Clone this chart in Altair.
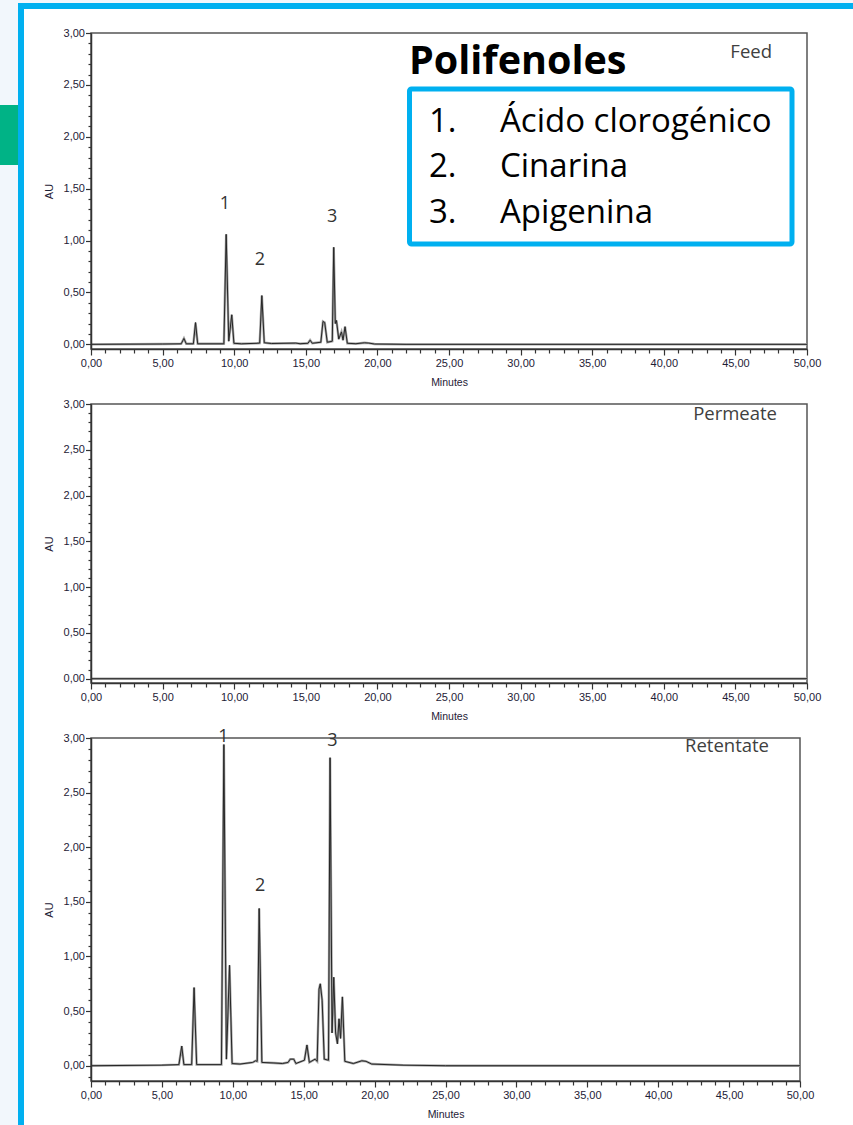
import altair as alt
import pandas as pd

# ---------------- data ----------------
feed_time = [0.0, 5.0, 6.3, 6.49, 6.65, 7.15, 7.3, 7.45, 9.28, 9.44, 9.62, 9.83, 9.98, 10.5,
             11.6, 11.78, 11.93, 12.1, 12.6, 14.3, 14.6, 15.15, 15.3, 15.45, 16.05, 16.2, 16.32, 16.5,
             16.85, 16.95, 17.06, 17.14, 17.3, 17.49, 17.6, 17.74, 17.9, 18.5, 19.1, 19.4, 19.8,
             22.0, 50.0]
feed_au = [0.0, 0.003, 0.005, 0.057, 0.005, 0.005, 0.21, 0.005, 0.005, 1.06, 0.03, 0.285, 0.01, 0.005,
           0.01, 0.012, 0.47, 0.015, 0.008, 0.012, 0.006, 0.01, 0.04, 0.01, 0.02, 0.22, 0.21, 0.02,
           0.03, 0.935, 0.2, 0.23, 0.05, 0.12, 0.04, 0.17, 0.01, 0.006, 0.015, 0.012, 0.003,
           0.0, 0.0]

perm_time = [0.0, 50.0]
perm_au = [0.0, 0.0]

ret_time = [0.0, 5.0, 6.2, 6.4, 6.55, 7.1, 7.27, 7.45, 9.2, 9.37, 9.55, 9.77, 9.95, 10.5,
            11.4, 11.6, 11.72, 11.86, 12.05, 12.9, 13.5, 13.9, 14.05, 14.3, 14.45, 15.05, 15.23, 15.4,
            15.8, 15.95, 16.08, 16.17, 16.3, 16.45, 16.75, 16.86, 17.0, 17.12, 17.25, 17.38,
            17.49, 17.6, 17.73, 17.9, 18.5, 19.1, 19.4, 19.8, 22.0, 25.0, 50.0]
ret_au = [0.0, 0.005, 0.01, 0.18, 0.01, 0.01, 0.715, 0.01, 0.01, 2.94, 0.06, 0.92, 0.02, 0.015,
          0.03, 0.045, 0.04, 1.44, 0.03, 0.025, 0.02, 0.03, 0.06, 0.06, 0.02, 0.05, 0.19, 0.03,
          0.06, 0.04, 0.7, 0.75, 0.6, 0.06, 0.05, 2.82, 0.3, 0.81, 0.3, 0.2,
          0.43, 0.25, 0.63, 0.04, 0.02, 0.045, 0.04, 0.015, 0.005, 0.0, 0.0]

peak_labels = ["1", "2", "3"]
feed_label_time = [9.35, 11.79, 16.84]
feed_label_au = [1.30, 0.764, 1.176]
ret_label_time = [9.33, 11.92, 17.02]
ret_label_au = [2.967, 1.60, 2.93]

panel_names = ["Feed", "Permeate", "Retentate"]
legend_title = "Polifenoles"
legend_nums = ["1.", "2.", "3."]
legend_names = ["Ácido clorogénico", "Cinarina", "Apigenina"]

minute_ticks = list(range(0, 51))
au_ticks_top = [round(i * 0.1, 1) for i in range(0, 31)]
au_ticks_bottom = [round(i * 0.1, 1) for i in range(-1, 31)]

# ---------------- styling ----------------
TXT_FONT = "Open Sans"
AX_FONT = "Liberation Sans"
AX_COLOR = "#1e2136"
LINE_DARK = "#262626"
LINE_GRAY = "#a3a3a3"
BLUE = "#00b0f0"
GREEN = "#00b386"

one = pd.DataFrame({"k": [0]})


def box(x, x2, y, y2, **kw):
    return alt.Chart(one).mark_rect(**kw).encode(
        x=alt.value(x), x2=alt.value(x2), y=alt.value(y), y2=alt.value(y2))


def label(txt, x, y, **kw):
    return alt.Chart(one).mark_text(baseline="alphabetic", **kw).encode(
        x=alt.value(x), y=alt.value(y), text=alt.value(txt))


def x_axis():
    return alt.Axis(
        values=minute_ticks,
        labelExpr="datum.value % 5 == 0 ? replace(format(datum.value, '.2f'), '.', ',') : ''",
        tickSize={"condition": {"test": "datum.value % 5 == 0", "value": 6}, "value": 4},
        grid=False, labelOverlap=False, labelFlush=False,
        labelFont=AX_FONT, labelFontSize=11, labelColor=AX_COLOR, labelPadding=2,
        titleFont=AX_FONT, titleFontSize=10.5, titleColor=AX_COLOR, titleFontWeight="normal",
        titlePadding=9, domainColor="#333333", domainWidth=1.5,
        tickColor="#333333", tickWidth=1.2, zindex=1)


def y_axis(vals):
    return alt.Axis(
        values=vals,
        labelExpr="(abs(datum.value*2 - round(datum.value*2)) < 0.001 && datum.value > -0.01) ? "
                  "replace(format(datum.value, '.2f'), '.', ',') : ''",
        tickSize={"condition": {"test": "abs(datum.value*2 - round(datum.value*2)) < 0.001",
                                "value": 5.5}, "value": 3},
        grid=False, labelOverlap=False, labelFlush=False,
        labelFont=AX_FONT, labelFontSize=11, labelColor=AX_COLOR, labelPadding=1,
        titleFont=AX_FONT, titleFontSize=11, titleColor=AX_COLOR, titleFontWeight="normal",
        titlePadding=9, domainColor="#333333", domainWidth=1.5,
        tickColor="#333333", tickWidth=1.2, zindex=1)


def panel(times, values, width, height, ymin, yvals, name, name_x, name_y,
          lab_t=None, lab_au=None, pre=None, post=None):
    df = pd.DataFrame({"t": times, "au": values})
    x = alt.X("t:Q", scale=alt.Scale(domain=[0, 50], nice=False, zero=False),
              axis=x_axis(), title="Minutes")
    y = alt.Y("au:Q", scale=alt.Scale(domain=[ymin, 3.0], nice=False, zero=False),
              axis=y_axis(yvals), title="AU")
    layers = list(pre or [])
    layers.append(box(0, width, 0, height, fill="white", fillOpacity=0,
                      stroke="#555555", strokeWidth=1.5))
    base = alt.Chart(df).encode(x=x, y=y)
    layers.append(base.mark_line(color=LINE_GRAY, strokeWidth=2.4))
    layers.append(base.mark_line(color=LINE_DARK, strokeWidth=1.0))
    if lab_t is not None:
        ldf = pd.DataFrame({"t": lab_t, "au": lab_au, "lab": peak_labels})
        layers.append(alt.Chart(ldf).mark_text(
            baseline="alphabetic", align="center", font=TXT_FONT, fontSize=18,
            color="#333333").encode(x=x, y=y, text="lab:N"))
    layers.append(label(name, name_x, name_y, align="right", font=TXT_FONT,
                        fontSize=18.5, color="#404040"))
    layers += list(post or [])
    return alt.layer(*layers).properties(width=width, height=height)


# page decoration relative to the top panel's plot origin (91, 33)
deco = [
    box(-91, 762, -33, 1092, fill="#f2f7fc"),
    box(-67, 762, -24, 1092, fill="white"),
    box(-73, -67, -30, 1092, fill=BLUE),
    box(-73, 762, -30, -24, fill=BLUE, cornerRadiusTopLeft=4),
    box(-91, -73, 72, 132, fill=GREEN),
]

legend = [
    box(318.5, 701, 56, 211, fill="white", stroke=BLUE, strokeWidth=5, cornerRadius=2),
    label(legend_title, 318, 40.5, align="left", font=TXT_FONT, fontSize=39.5,
          fontWeight="bold", color="#000000"),
]
for i, (num, nm) in enumerate(zip(legend_nums, legend_names)):
    yb = 98.7 + i * 45.7
    legend.append(label(num, 338, yb, align="left", font=TXT_FONT, fontSize=33, color="#000000"))
    legend.append(label(nm, 409, yb, align="left", font=TXT_FONT, fontSize=33, color="#000000"))

top = panel(feed_time, feed_au, 716, 316, -0.045, au_ticks_top, panel_names[0], 681, 25.3,
            feed_label_time, feed_label_au, pre=deco, post=legend)
mid = panel(perm_time, perm_au, 716, 279, -0.047, au_ticks_top, panel_names[1], 686, 16)
bot = panel(ret_time, ret_au, 709, 343, -0.14, au_ticks_bottom, panel_names[2], 678, 14,
            ret_label_time, ret_label_au)

chart = alt.vconcat(top, mid, bot, spacing=55, bounds="flush").properties(
    padding=0, background="white"
).configure_view(strokeWidth=0)

chart.save("out.html", embed_options={"renderer": "svg", "actions": False})
